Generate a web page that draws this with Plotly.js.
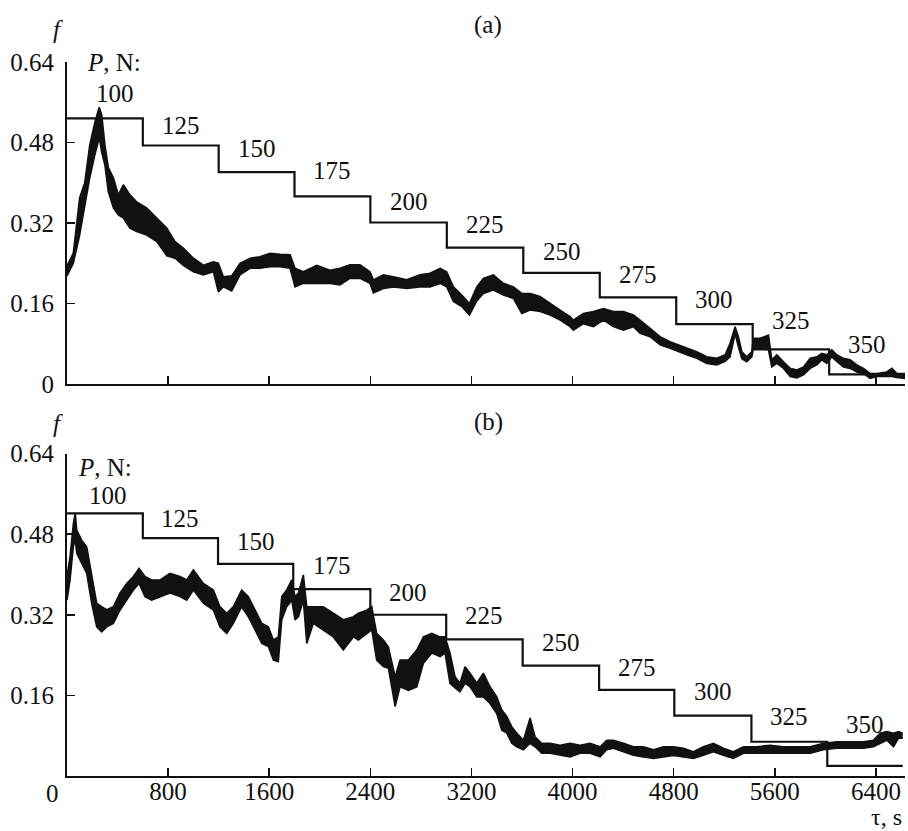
<!DOCTYPE html>
<html>
<head>
<meta charset="utf-8">
<script src="https://cdn.plot.ly/plotly-3.0.1.min.js"></script>
<style>html,body{margin:0;padding:0;background:#fff;}#chart{width:908px;height:831px;}</style>
</head>
<body>
<div id="chart"></div>
<script>
// ---------- DATA ----------
const loads = [100, 125, 150, 175, 200, 225, 250, 275, 300, 325, 350];

// Panel (a): load steps (start time, level on f scale)
const stepStartA = [0, 600, 1200, 1800, 2400, 3005, 3610, 4215, 4820, 5425, 6030];
const stepLevelA = [0.528, 0.474, 0.421, 0.373, 0.321, 0.271, 0.221, 0.172, 0.119, 0.069, 0.019];
const stepEndA = 6630;

// Panel (a): friction coefficient band (time, upper, lower)
const tA = [0, 50, 100, 140, 180, 220, 255, 275, 300, 327, 367, 406, 446, 498, 551, 630, 710, 789, 855, 920,
  1000, 1079, 1158, 1197, 1237, 1303, 1369, 1448, 1527, 1606, 1686, 1765, 1804, 1870, 1976, 2081, 2160, 2239, 2318, 2397,
  2424, 2503, 2582, 2688, 2793, 2872, 2952, 3004, 3057, 3123, 3184, 3242, 3294, 3373, 3452, 3532, 3598, 3664, 3743, 3822,
  3901, 3980, 4006, 4085, 4165, 4244, 4323, 4402, 4481, 4534, 4613, 4692, 4771, 4837, 4903, 4982, 5062, 5141, 5207, 5246,
  5286, 5312, 5339, 5378, 5418, 5431, 5484, 5550, 5576, 5616, 5669, 5721, 5774, 5827, 5880, 5932, 5972, 6011, 6051, 6090,
  6143, 6196, 6249, 6301, 6354, 6407, 6486, 6526, 6565, 6631];
const fAhi = [0.235, 0.26, 0.37, 0.40, 0.475, 0.52, 0.55, 0.535, 0.475, 0.43, 0.41, 0.376, 0.396, 0.376, 0.362, 0.35, 0.33, 0.31, 0.283, 0.27,
  0.25, 0.236, 0.243, 0.24, 0.213, 0.215, 0.24, 0.25, 0.253, 0.26, 0.258, 0.257, 0.23, 0.223, 0.236, 0.226, 0.23, 0.237, 0.237, 0.223,
  0.207, 0.217, 0.213, 0.207, 0.217, 0.22, 0.23, 0.223, 0.193, 0.177, 0.16, 0.193, 0.21, 0.217, 0.2, 0.193, 0.18, 0.18, 0.174, 0.16,
  0.147, 0.134, 0.127, 0.14, 0.144, 0.15, 0.144, 0.144, 0.137, 0.127, 0.111, 0.094, 0.084, 0.078, 0.071, 0.064, 0.054, 0.051, 0.058, 0.081,
  0.114, 0.094, 0.064, 0.054, 0.064, 0.091, 0.091, 0.097, 0.048, 0.058, 0.044, 0.031, 0.028, 0.034, 0.051, 0.054, 0.061, 0.058, 0.068, 0.058,
  0.051, 0.048, 0.038, 0.031, 0.021, 0.021, 0.024, 0.031, 0.021, 0.021];
const fAlo = [0.215, 0.24, 0.296, 0.35, 0.41, 0.455, 0.49, 0.46, 0.435, 0.382, 0.35, 0.336, 0.33, 0.31, 0.303, 0.296, 0.283, 0.255, 0.25, 0.236,
  0.223, 0.217, 0.223, 0.183, 0.193, 0.185, 0.217, 0.23, 0.23, 0.233, 0.233, 0.23, 0.193, 0.2, 0.2, 0.2, 0.197, 0.21, 0.21, 0.2,
  0.181, 0.19, 0.193, 0.19, 0.193, 0.193, 0.2, 0.193, 0.164, 0.154, 0.137, 0.165, 0.18, 0.187, 0.177, 0.17, 0.14, 0.147, 0.144, 0.137,
  0.127, 0.114, 0.107, 0.12, 0.114, 0.127, 0.114, 0.107, 0.114, 0.101, 0.094, 0.078, 0.071, 0.064, 0.058, 0.051, 0.041, 0.038, 0.045, 0.054,
  0.1, 0.074, 0.05, 0.044, 0.054, 0.071, 0.071, 0.068, 0.034, 0.041, 0.031, 0.015, 0.012, 0.018, 0.031, 0.038, 0.048, 0.041, 0.054, 0.045,
  0.034, 0.031, 0.024, 0.021, 0.011, 0.015, 0.015, 0.015, 0.013, 0.011];

// Panel (b): load steps
const stepStartB = [0, 600, 1195, 1790, 2400, 3000, 3605, 4210, 4805, 5415, 6015];
const stepLevelB = [0.521, 0.472, 0.421, 0.371, 0.320, 0.271, 0.219, 0.171, 0.120, 0.068, 0.020];
const stepEndB = 6612;

// Panel (b): friction coefficient band
const tB = [0, 24, 50, 65, 77, 116, 156, 195, 235, 274, 314, 367, 419, 472, 525, 570, 617, 670, 736, 815,
  894, 947, 1000, 1079, 1158, 1210, 1264, 1316, 1382, 1435, 1488, 1541, 1593, 1633, 1672, 1699, 1738, 1778, 1804, 1831,
  1870, 1897, 1949, 2028, 2107, 2186, 2266, 2305, 2371, 2411, 2450, 2503, 2543, 2596, 2635, 2701, 2767, 2820, 2886, 2952,
  2991, 3030, 3070, 3109, 3149, 3189, 3242, 3294, 3347, 3400, 3440, 3479, 3519, 3558, 3611, 3664, 3703, 3756, 3822, 3901,
  3980, 4059, 4138, 4218, 4270, 4323, 4402, 4481, 4560, 4640, 4719, 4798, 4877, 4956, 5035, 5114, 5193, 5272, 5352, 5457,
  5563, 5669, 5774, 5880, 5985, 6090, 6196, 6301, 6380, 6433, 6486, 6539, 6579, 6612];
const fBhi = [0.396, 0.435, 0.50, 0.522, 0.488, 0.468, 0.455, 0.402, 0.343, 0.336, 0.33, 0.336, 0.363, 0.382, 0.396, 0.412, 0.396, 0.389, 0.389, 0.402,
  0.396, 0.389, 0.409, 0.382, 0.369, 0.336, 0.323, 0.336, 0.369, 0.356, 0.329, 0.303, 0.296, 0.27, 0.276, 0.356, 0.369, 0.389, 0.356, 0.363,
  0.399, 0.336, 0.336, 0.336, 0.323, 0.31, 0.316, 0.323, 0.329, 0.336, 0.283, 0.27, 0.256, 0.197, 0.23, 0.23, 0.25, 0.276, 0.283, 0.276,
  0.276, 0.244, 0.197, 0.184, 0.217, 0.204, 0.184, 0.204, 0.177, 0.157, 0.131, 0.118, 0.098, 0.085, 0.071, 0.115, 0.078, 0.065, 0.065, 0.061,
  0.065, 0.061, 0.065, 0.058, 0.071, 0.071, 0.065, 0.058, 0.058, 0.052, 0.058, 0.058, 0.055, 0.048, 0.058, 0.065, 0.055, 0.048, 0.058, 0.058,
  0.061, 0.058, 0.058, 0.058, 0.065, 0.068, 0.068, 0.068, 0.071, 0.085, 0.088, 0.085, 0.088, 0.085];
const fBlo = [0.349, 0.389, 0.455, 0.47, 0.442, 0.422, 0.402, 0.343, 0.296, 0.286, 0.296, 0.303, 0.329, 0.349, 0.369, 0.382, 0.356, 0.349, 0.356, 0.363,
  0.356, 0.349, 0.369, 0.343, 0.329, 0.296, 0.283, 0.303, 0.336, 0.316, 0.29, 0.263, 0.257, 0.23, 0.227, 0.31, 0.336, 0.349, 0.31, 0.316,
  0.349, 0.263, 0.303, 0.29, 0.276, 0.25, 0.276, 0.27, 0.283, 0.29, 0.23, 0.217, 0.214, 0.138, 0.177, 0.17, 0.177, 0.224, 0.244, 0.237,
  0.244, 0.184, 0.175, 0.167, 0.184, 0.177, 0.157, 0.157, 0.144, 0.124, 0.091, 0.085, 0.065, 0.058, 0.052, 0.065, 0.058, 0.045, 0.045, 0.041,
  0.038, 0.045, 0.045, 0.038, 0.052, 0.055, 0.048, 0.041, 0.038, 0.035, 0.038, 0.041, 0.038, 0.035, 0.041, 0.048, 0.041, 0.035, 0.045, 0.045,
  0.045, 0.045, 0.045, 0.045, 0.052, 0.055, 0.055, 0.055, 0.058, 0.065, 0.071, 0.058, 0.075, 0.075];

const yTickVals = [0, 0.16, 0.32, 0.48, 0.64];
const yTickText = ['0', '0.16', '0.32', '0.48', '0.64'];
const xTickVals = [800, 1600, 2400, 3200, 4000, 4800, 5600, 6400];
const xTickText = ['800', '1600', '2400', '3200', '4000', '4800', '5600', '6400'];

// ---------- BUILD ----------
const INK = '#111111';
const FONT = 'Liberation Serif';
const FS = 25;
const H = 831;

function stepTrace(starts, levels, end, xa, ya) {
  return {
    x: starts.concat([end]), y: levels.concat([levels[levels.length - 1]]),
    xaxis: xa, yaxis: ya, mode: 'lines', line: {shape: 'hv', color: INK, width: 2.2},
    hoverinfo: 'skip', showlegend: false
  };
}
function bandTraces(t, hi, lo, xa, ya) {
  return [
    {x: t, y: lo, xaxis: xa, yaxis: ya, mode: 'lines', line: {color: INK, width: 1.6},
     hoverinfo: 'skip', showlegend: false},
    {x: t, y: hi, xaxis: xa, yaxis: ya, mode: 'lines', line: {color: INK, width: 1.6},
     fill: 'tonexty', fillcolor: INK, hoverinfo: 'skip', showlegend: false}
  ];
}

const traces = [
  stepTrace(stepStartA, stepLevelA, stepEndA, 'x', 'y'),
  ...bandTraces(tA, fAhi, fAlo, 'x', 'y'),
  stepTrace(stepStartB, stepLevelB, stepEndB, 'x2', 'y2'),
  ...bandTraces(tB, fBhi, fBlo, 'x2', 'y2')
];

const annotations = [];
function stepLabels(starts, levels, end, xref, yref, shifts, firstX) {
  loads.forEach((p, i) => {
    const a = starts[i], b = (i + 1 < starts.length) ? starts[i + 1] : end;
    annotations.push({
      x: i === 0 ? firstX : (a + b) / 2, y: levels[i], xref: xref, yref: yref,
      text: String(p), showarrow: false, yshift: shifts[i], yanchor: 'middle',
      font: {family: FONT, size: FS, color: INK}
    });
  });
}
stepLabels(stepStartA, stepLevelA, stepEndA, 'x', 'y', [25, 20, 24, 26, 21, 23, 21, 23, 25, 29, 30], 380);
stepLabels(stepStartB, stepLevelB, stepEndB, 'x2', 'y2', [18, 20, 22, 24, 22, 24, 23, 22, 24, 25, 41], 324);

function paperAnn(text, px, py, xanchor, extra) {
  annotations.push(Object.assign({
    xref: 'paper', yref: 'paper', x: (px - 67) / 838, y: 1 - py / H,
    text: text, showarrow: false, xanchor: xanchor || 'center', yanchor: 'middle',
    font: {family: FONT, size: FS, color: INK}
  }, extra || {}));
}
paperAnn('<i>f</i>', 58, 30);
paperAnn('<i>f</i>', 58, 423);
paperAnn('(a)', 488, 25);
paperAnn('(b)', 488, 422);
paperAnn('<i>P</i>, N:', 85, 63, 'left');
paperAnn('<i>P</i>, N:', 76, 467, 'left');
paperAnn('0', 52, 793);
paperAnn('τ, s', 903, 831, 'right', {borderpad: 0, yanchor: 'bottom', font: {family: FONT, size: 24, color: INK}});

const axBase = {
  showline: true, linecolor: INK, linewidth: 2, mirror: false,
  ticks: 'inside', ticklen: 8, tickwidth: 1.5, tickcolor: INK,
  showgrid: false, zeroline: false, fixedrange: true,
  tickfont: {family: FONT, size: FS, color: INK}
};

const layout = {
  width: 908, height: H,
  margin: {l: 67, r: 3, t: 0, b: 0, pad: 0},
  paper_bgcolor: '#ffffff', plot_bgcolor: '#ffffff',
  showlegend: false,
  xaxis: Object.assign({}, axBase, {
    domain: [0, 1], range: [0, 6630], anchor: 'y',
    tickmode: 'array', tickvals: xTickVals, ticktext: xTickText, showticklabels: false
  }),
  yaxis: Object.assign({}, axBase, {
    domain: [1 - 384 / H, 1 - 62 / H], range: [0, 0.64], anchor: 'x',
    tickmode: 'array', tickvals: yTickVals, ticktext: yTickText, ticklabelstandoff: 6
  }),
  xaxis2: Object.assign({}, axBase, {
    domain: [0, 1], range: [0, 6630], anchor: 'y2',
    tickmode: 'array', tickvals: xTickVals, ticktext: xTickText, ticklabelstandoff: -8
  }),
  yaxis2: Object.assign({}, axBase, {
    domain: [1 - 776 / H, 1 - 453.5 / H], range: [0, 0.64], anchor: 'x2',
    tickmode: 'array', tickvals: yTickVals.slice(1), ticktext: yTickText.slice(1), ticklabelstandoff: 6
  }),
  annotations: annotations
};

Plotly.newPlot('chart', traces, layout, {displayModeBar: false, staticPlot: true});
</script>
</body>
</html>
